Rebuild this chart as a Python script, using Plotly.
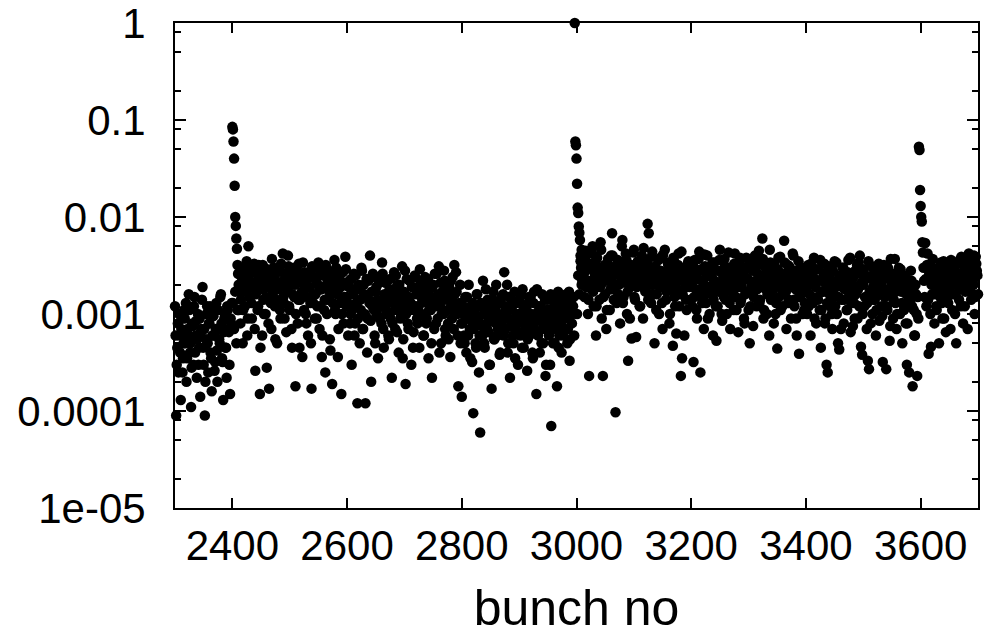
import plotly.graph_objects as go

# --- dados (bunch no -> valor), por trechos ---
# trecho antes do primeiro pico (2300..2398, passo 2)
seg_2300 = [1.2e-3, 9e-5, 4.5e-4, 2.5e-4, 6e-4, 1.3e-4, 9e-4, 3.5e-4, 1.1e-3, 5e-4,
            2e-4, 7e-4, 1.6e-3, 4e-4, 1.1e-4, 8e-4, 3e-4, 1.5e-3, 6e-4, 2.2e-4,
            1e-3, 4.5e-4, 1.4e-4, 7e-4, 1.9e-3, 3e-4, 9e-5, 5.5e-4, 1.2e-3, 2.5e-4,
            8e-4, 4e-4, 1.6e-4, 1.1e-3, 6e-4, 3.2e-4, 1.3e-3, 2e-4, 7e-4, 5e-4,
            1.6e-3, 3.5e-4, 1.3e-4, 9e-4, 4.5e-4, 2.2e-4, 1.1e-3, 6.5e-4, 1.5e-4, 8e-4]
# bunches ímpares (2301..2399)
odd_2301 = [6e-4, 3e-4, 8e-4, 1e-3, 4e-4, 7e-4, 2.5e-4, 5e-4, 9e-4, 1.3e-3,
            3.5e-4, 6e-4, 1.1e-3, 5e-4, 2.8e-4, 7.5e-4, 1.2e-3, 4e-4, 8.5e-4, 5.5e-4,
            3e-4, 9e-4, 6.5e-4, 1.4e-3, 4.5e-4, 7e-4, 2e-4, 1e-3, 5e-4, 8e-4,
            1.2e-3, 3.5e-4, 6e-4, 9.5e-4, 2.6e-4, 7e-4, 4.2e-4, 1.1e-3, 5.5e-4, 1.5e-3,
            8e-4, 3.2e-4, 6.5e-4, 1e-3, 4.5e-4, 1.2e-3, 7e-4, 3e-4, 9e-4, 1.3e-3]
# pico em 2400 (passo 1)
peak_2400 = [8.5e-2, 8e-2, 6e-2, 4e-2, 2.1e-2, 1e-2, 8.1e-3, 6e-3, 4.7e-3, 3.2e-3, 2.6e-3, 1.1e-3]
low_2401 = [1.3e-3, 7e-4, 1.7e-3, 5e-4, 1.1e-3, 2e-3]
# 2412..2598 (passo 2)
seg_2412 = [1.7e-3, 8e-4, 2.4e-3, 5e-4, 3e-3, 1.2e-3, 2.1e-3, 6e-4, 5e-3, 1.5e-3,
            2.8e-3, 9e-4, 2e-3, 3.3e-3, 2.6e-4, 1.8e-3, 1.1e-3, 3.2e-3, 1.5e-4, 2.2e-3,
            6e-4, 1.4e-3, 2.7e-3, 1e-3, 2.8e-4, 1.9e-3, 1.7e-4, 2.5e-3, 7e-4, 1.6e-3,
            3e-3, 1.2e-3, 2.2e-3, 5e-4, 1.8e-3, 2.9e-3, 9e-4, 2e-3, 4.2e-3, 1.3e-3,
            2.4e-3, 6.5e-4, 1.7e-3, 3.1e-3, 1.1e-3, 2e-3, 4.5e-4, 2.6e-3, 1.5e-3, 1.8e-4,
            2.2e-3, 8e-4, 3.3e-3, 1.4e-3, 2.1e-3, 3.6e-4, 1.7e-3, 2.7e-3, 1e-3, 1.9e-3,
            6e-4, 2.4e-3, 1.3e-3, 1.7e-4, 3e-3, 1.6e-3, 9e-4, 2.2e-3, 1.2e-3, 3.4e-3,
            7e-4, 1.8e-3, 3.6e-4, 2.5e-3, 1.1e-3, 2.5e-4, 2e-3, 1.4e-3, 2.8e-3, 5.5e-4,
            1.6e-3, 1.9e-4, 2.3e-3, 3.6e-3, 1e-3, 1.8e-3, 3.6e-4, 2.6e-3, 1.3e-3, 1.5e-4,
            2.1e-3, 8e-4, 1.5e-3, 2.9e-3]
odd_2413 = [2e-3, 1.4e-3, 2.8e-3, 1.1e-3, 2.3e-3, 1.7e-3, 3.5e-3, 9e-4, 2.5e-3, 1.9e-3,
            1.3e-3, 3e-3, 2.1e-3, 7e-4, 1.6e-3, 2.6e-3, 1.2e-3, 2.2e-3, 4.5e-4, 1.8e-3,
            3.2e-3, 1e-3, 2.4e-3, 1.5e-3, 2.9e-3, 8e-4, 2e-3, 1.3e-3, 3.7e-3, 1.7e-3,
            2.3e-3, 5.5e-4, 1.4e-3, 2.7e-3, 1.9e-3, 1.1e-3, 3.3e-3, 2.1e-3, 1.5e-3, 9e-4,
            2.6e-3, 1.8e-3, 4e-3, 1.2e-3, 2.2e-3, 7e-4, 1.6e-3, 3e-3, 2e-3, 1e-3,
            2.8e-3, 1.4e-3, 4.5e-4, 2.3e-3, 1.7e-3, 3.4e-3, 1.1e-3, 2.1e-3, 8e-4, 1.5e-3,
            2.7e-3, 1.9e-3, 5e-4, 3.1e-3, 1.3e-3, 2.4e-3, 1.6e-3, 9e-4, 2e-3, 2.9e-3,
            1.2e-3, 1.8e-3, 6e-4, 2.5e-3, 1.4e-3, 3.2e-3, 1e-3, 2.2e-3, 1.7e-3, 4.2e-4,
            2.6e-3, 1.3e-3, 2e-3, 1.1e-3, 3e-3, 1.6e-3, 7e-4, 2.3e-3, 1.9e-3, 1e-3,
            2.7e-3, 1.5e-3, 3.9e-3, 1.2e-3]
# 2600..2798 (passo 2)
seg_2600 = [1.5e-3, 6e-4, 2.2e-3, 1e-3, 3e-4, 1.8e-3, 2.6e-3, 8e-4, 1.3e-3, 1.2e-4,
            2e-3, 5e-4, 1.1e-3, 2.8e-3, 7e-4, 1.6e-3, 1.2e-4, 2.3e-3, 9e-4, 1.4e-3,
            4e-3, 2e-4, 1.2e-3, 2.4e-3, 6e-4, 1.7e-3, 1e-3, 3.5e-4, 2.1e-3, 1.3e-3,
            8e-4, 2.6e-3, 4.5e-4, 1.5e-3, 1.1e-3, 2.2e-3, 6e-4, 1.8e-3, 9e-4, 2.2e-4,
            1.4e-3, 2.7e-3, 7e-4, 1.2e-3, 2e-3, 4e-4, 1.6e-3, 1e-3, 3.1e-3, 5.5e-4,
            1.3e-3, 1.9e-4, 2.3e-3, 8e-4, 1.5e-3, 1.1e-3, 3e-4, 1.9e-3, 6.5e-4, 2.5e-3,
            1.2e-3, 9e-4, 1.7e-3, 4.5e-4, 2.1e-3, 1e-3, 1.4e-3, 6e-4, 2.4e-3, 8e-4,
            1.3e-3, 3.5e-4, 1.8e-3, 1.1e-3, 2.2e-4, 2e-3, 7e-4, 1.5e-3, 2.6e-3, 9e-4,
            3.1e-3, 1.2e-3, 5e-4, 1.7e-3, 1e-3, 2.2e-3, 6e-4, 1.4e-3, 8e-4, 1.9e-3,
            3.6e-4, 1.2e-3, 2.4e-3, 7e-4, 1.6e-3, 2.7e-3, 1e-3, 1.8e-4, 1.3e-3, 5e-4]
odd_2601 = [1.3e-3, 1.9e-3, 8e-4, 2.3e-3, 1.1e-3, 1.6e-3, 6e-4, 2.5e-3, 1.2e-3, 9e-4,
            1.8e-3, 1.4e-3, 3e-3, 7e-4, 2e-3, 1e-3, 1.5e-3, 4e-4, 2.2e-3, 1.3e-3,
            8.5e-4, 1.7e-3, 2.6e-3, 1.1e-3, 5e-4, 1.9e-3, 1.4e-3, 2.4e-3, 9e-4, 1.2e-3,
            3.4e-3, 7e-4, 1.6e-3, 2.1e-3, 1e-3, 1.3e-3, 5.5e-4, 2.3e-3, 1.5e-3, 8e-4,
            1.8e-3, 1.1e-3, 2.5e-3, 6.5e-4, 1.4e-3, 2e-3, 9e-4, 1.2e-3, 3.5e-4, 1.7e-3,
            2.8e-3, 1e-3, 1.5e-3, 7e-4, 2.2e-3, 1.3e-3, 1.9e-3, 4.5e-4, 1.1e-3, 2.4e-3,
            1.6e-3, 8e-4, 1.2e-3, 2.9e-3, 1e-3, 1.4e-3, 6e-4, 2e-3, 1.7e-3, 9e-4,
            2.3e-3, 1.1e-3, 1.5e-3, 5e-4, 1.9e-3, 1.3e-3, 2.6e-3, 8e-4, 1.2e-3, 1.6e-3,
            4e-4, 2.1e-3, 1e-3, 1.4e-3, 2.8e-3, 7e-4, 1.8e-3, 1.1e-3, 5.5e-4, 1.5e-3,
            2.2e-3, 9e-4, 1.3e-3, 3.2e-3, 1e-3, 1.7e-3, 6e-4, 1.2e-3, 2e-3, 8e-4]
# 2800..2996 (passo 2)
seg_2800 = [1.4e-4, 1e-3, 6e-4, 1.5e-3, 4e-4, 9e-4, 2e-3, 7e-4, 1.2e-3, 3.2e-4,
            9.5e-5, 1.1e-3, 5e-4, 1.6e-3, 8e-4, 2.5e-4, 6e-5, 1.3e-3, 6e-4, 1e-3,
            4.5e-4, 1.8e-3, 7e-4, 1.2e-3, 3e-4, 9e-4, 1.7e-4, 1.4e-3, 5.5e-4, 1.1e-3,
            2e-3, 6e-4, 8e-4, 3.8e-4, 1.3e-3, 9e-4, 1.6e-3, 2.7e-3, 7e-4, 1.1e-3,
            4e-4, 1.5e-3, 2.2e-4, 8.5e-4, 1.2e-3, 5e-4, 1.7e-3, 7e-4, 1e-3, 3e-4,
            1.4e-3, 6e-4, 9e-4, 1.8e-3, 4.5e-4, 1.1e-3, 7.5e-4, 2.6e-4, 1.3e-3, 6e-4,
            1.5e-3, 8e-4, 3.5e-4, 1.7e-3, 1e-3, 1.5e-4, 6.5e-4, 1.2e-3, 4e-4, 9e-4,
            1.6e-3, 5e-4, 7e-4, 2.3e-4, 1.1e-3, 1.4e-3, 6e-4, 3e-4, 7e-5, 1e-3,
            1.5e-3, 5e-4, 8e-4, 1.8e-4, 1.7e-3, 6e-4, 1.1e-3, 4e-4, 9e-4, 1.3e-3,
            7e-4, 1.6e-3, 5e-4, 1e-3, 3.3e-4, 1.4e-3, 8e-4, 1.2e-3, 6e-4]
odd_2801 = [8e-4, 1.2e-3, 5e-4, 9.5e-4, 1.5e-3, 6e-4, 1.1e-3, 3.5e-4, 8.5e-4, 1.3e-3,
            7e-4, 1e-3, 4.5e-4, 1.6e-3, 9e-4, 6e-4, 1.2e-3, 7.5e-4, 2.2e-3, 5e-4,
            1e-3, 8e-4, 1.4e-3, 6.5e-4, 3e-4, 1.1e-3, 9e-4, 1.7e-3, 5.5e-4, 8e-4,
            1.3e-3, 7e-4, 1e-3, 4e-4, 1.5e-3, 8.5e-4, 6e-4, 1.2e-3, 9.5e-4, 2e-3,
            5e-4, 1.1e-3, 7.5e-4, 1.4e-3, 6e-4, 9e-4, 3.5e-4, 1.3e-3, 8e-4, 1e-3,
            6.5e-4, 1.6e-3, 4.5e-4, 1.2e-3, 9e-4, 7e-4, 1.1e-3, 5.5e-4, 1.5e-3, 8e-4,
            1e-3, 4e-4, 1.3e-3, 7e-4, 9.5e-4, 1.8e-3, 6e-4, 8.5e-4, 1.2e-3, 5e-4,
            1e-3, 7.5e-4, 1.4e-3, 3e-4, 9e-4, 1.1e-3, 6.5e-4, 1.6e-3, 8e-4, 5e-4,
            1.2e-3, 9e-4, 7e-4, 1.3e-3, 4.5e-4, 1e-3, 8e-4, 1.5e-3, 6e-4, 1.1e-3,
            9e-4, 1.4e-3, 7e-4, 1.7e-3, 5.5e-4, 1.2e-3, 1e-3, 1.5e-3]
# pico em 3000 (passo 1)
peak_3000 = [1.0, 6e-2, 5.5e-2, 4e-2, 2.2e-2, 1.25e-2, 1.1e-2, 8e-3, 6.9e-3, 5.8e-3,
             4e-3, 3e-3, 4.6e-3, 2.2e-3]
low_3001 = [1e-3, 2.5e-3, 1.6e-3, 3.5e-3, 2e-3]
# 3012..3198 (passo 2)
seg_3012 = [3.5e-3, 1.5e-3, 4.5e-3, 2.2e-3, 1e-3, 2.3e-4, 3e-3, 1.8e-3, 5e-3, 1.2e-3,
            2.6e-3, 6e-4, 3.8e-3, 2e-3, 1.4e-3, 5.5e-3, 9e-4, 2.3e-4, 2.8e-3, 1.6e-3,
            7e-4, 3.3e-3, 2.2e-3, 1.1e-3, 4e-3, 6.8e-3, 1.8e-3, 2.6e-3, 9.7e-5, 1.3e-3,
            3.6e-3, 2e-3, 8e-4, 2.9e-3, 5.8e-3, 1.5e-3, 2.4e-3, 4.2e-3, 1e-3, 3.3e-4,
            3.1e-3, 1.9e-3, 5.6e-4, 2.7e-3, 4.6e-3, 1.4e-3, 5.8e-4, 3.4e-3, 2.1e-3, 1.2e-3,
            2.8e-3, 4e-3, 9e-4, 2.3e-3, 1.7e-3, 3.6e-3, 8.5e-3, 6.8e-3, 2.5e-3, 1.3e-3,
            4.4e-3, 2e-3, 5e-4, 3e-3, 1.6e-3, 2.4e-3, 1e-3, 3.8e-3, 1.9e-3, 7e-4,
            2.7e-3, 4.6e-3, 1.4e-3, 2.2e-3, 3.2e-3, 8e-4, 1.8e-3, 2.6e-3, 4.7e-4, 3.5e-3,
            1.2e-3, 6.3e-4, 2.3e-3, 4.2e-3, 1.6e-3, 2.3e-4, 3.5e-4, 2.9e-3, 6e-4, 1.9e-3,
            1.1e-3, 3.3e-3, 2.1e-3, 1.4e-3]
odd_3013 = [2.6e-3, 3.8e-3, 1.9e-3, 2.9e-3, 1.4e-3, 3.3e-3, 2.2e-3, 4.2e-3, 1.7e-3, 2.7e-3,
            3.5e-3, 1.2e-3, 2.4e-3, 3e-3, 1.9e-3, 4.6e-3, 2.1e-3, 1.5e-3, 3.2e-3, 2.5e-3,
            1.1e-3, 3.7e-3, 2.8e-3, 1.8e-3, 2.3e-3, 4e-3, 1.4e-3, 3.1e-3, 2e-3, 2.7e-3,
            1.6e-3, 3.4e-3, 2.4e-3, 5e-3, 1.3e-3, 2.9e-3, 2.1e-3, 3.6e-3, 1.7e-3, 2.6e-3,
            9e-4, 3.2e-3, 2.2e-3, 4.3e-3, 1.5e-3, 2.8e-3, 1.9e-3, 3.5e-3, 2.4e-3, 1.2e-3,
            3e-3, 2.6e-3, 4.8e-3, 1.8e-3, 2.2e-3, 3.3e-3, 1.4e-3, 2.7e-3, 2e-3, 3.9e-3,
            1.6e-3, 2.5e-3, 3.1e-3, 1.1e-3, 2.3e-3, 3.6e-3, 1.9e-3, 2.8e-3, 1.3e-3, 4.1e-3,
            2.1e-3, 2.6e-3, 1.7e-3, 3.4e-3, 2.4e-3, 1e-3, 2.9e-3, 2e-3, 3.8e-3, 1.5e-3,
            2.7e-3, 1.8e-3, 3.2e-3, 1.2e-3, 2.2e-3, 4.4e-3, 1.6e-3, 2.5e-3, 3e-3, 1.4e-3,
            2.3e-3, 3.5e-3, 1.9e-3, 2.8e-3]
# 3200..3398 (passo 2)
seg_3200 = [2.5e-3, 1.2e-3, 3.2e-4, 3.6e-3, 1.8e-3, 9e-4, 2.7e-3, 4.4e-3, 2.5e-4, 1.5e-3,
            2.2e-3, 7e-4, 3.1e-3, 1.3e-3, 4e-3, 1.9e-3, 1e-3, 2.6e-3, 1.6e-3, 6e-4,
            3.4e-3, 2.1e-3, 5.3e-4, 1.2e-3, 2.8e-3, 4.6e-3, 1.7e-3, 8.5e-4, 2.4e-3, 3.7e-3,
            1.4e-3, 1e-3, 2e-3, 3e-3, 7e-4, 1.8e-3, 2.5e-3, 1.1e-3, 4.2e-3, 1.5e-3,
            2.2e-3, 6.5e-4, 3.3e-3, 1.3e-3, 1.9e-3, 2.7e-3, 9e-4, 1.6e-3, 3.8e-3, 2.3e-3,
            1.1e-3, 5e-4, 2.9e-3, 1.7e-3, 7.5e-4, 3.5e-3, 2.1e-3, 1.2e-3, 2.6e-3, 4.5e-3,
            1.4e-3, 2e-3, 6e-3, 9e-4, 3.1e-3, 1.8e-3, 1e-3, 2.4e-3, 6e-4, 3.4e-3,
            1.5e-3, 2.2e-3, 8e-4, 2.9e-3, 1.3e-3, 4.4e-4, 3.8e-3, 1.9e-3, 1.1e-3, 2.6e-3,
            1.6e-3, 5.7e-3, 2.2e-3, 7e-4, 3.2e-3, 1.4e-3, 2e-3, 9e-4, 2.7e-3, 4e-3,
            1.2e-3, 1.8e-3, 6e-4, 2.4e-3, 3.9e-4, 1.5e-3, 3e-3, 1e-3, 2.1e-3, 1.3e-3]
odd_3201 = [2e-3, 3.2e-3, 1.5e-3, 2.6e-3, 1.1e-3, 2.3e-3, 3.7e-3, 1.8e-3, 2.9e-3, 1.3e-3,
            2.1e-3, 4.1e-3, 1.6e-3, 2.5e-3, 9e-4, 3e-3, 1.9e-3, 2.4e-3, 3.4e-3, 1.4e-3,
            2.2e-3, 1.2e-3, 2.8e-3, 1.7e-3, 3.6e-3, 2e-3, 1e-3, 2.6e-3, 1.5e-3, 3.1e-3,
            2.3e-3, 1.8e-3, 4.3e-3, 1.3e-3, 2.7e-3, 2.1e-3, 1.6e-3, 3.3e-3, 2.4e-3, 1.1e-3,
            2.9e-3, 1.9e-3, 3.8e-3, 1.4e-3, 2.2e-3, 2.6e-3, 8e-4, 3e-3, 1.7e-3, 2.3e-3,
            3.5e-3, 1.2e-3, 2e-3, 2.8e-3, 1.5e-3, 4e-3, 2.2e-3, 1.8e-3, 3.2e-3, 1.3e-3,
            2.5e-3, 1.9e-3, 3.7e-3, 1.1e-3, 2.4e-3, 3e-3, 1.6e-3, 2.1e-3, 4.6e-3, 1.4e-3,
            2.7e-3, 1.8e-3, 3.3e-3, 1e-3, 2.3e-3, 2.9e-3, 1.5e-3, 3.9e-3, 2e-3, 1.2e-3,
            2.6e-3, 3.4e-3, 1.7e-3, 2.2e-3, 1.3e-3, 3.1e-3, 2.4e-3, 1.9e-3, 4.2e-3, 1.4e-3,
            2.8e-3, 9e-4, 2.1e-3, 3.5e-3, 1.6e-3, 2.5e-3, 1.8e-3, 3e-3, 1.1e-3, 2.3e-3]
# 3400..3596 (passo 2)
seg_3400 = [2.2e-3, 1e-3, 3.2e-3, 1.6e-3, 6e-4, 2.6e-3, 1.3e-3, 3.8e-3, 2e-3, 8e-4,
            1.5e-3, 2.9e-3, 1.1e-3, 4.5e-4, 2.3e-3, 1.7e-3, 3.3e-3, 9e-4, 3e-4, 2.5e-4,
            1.9e-3, 1.2e-3, 2.7e-3, 7e-4, 1.5e-3, 3.5e-3, 2.1e-3, 1e-3, 5e-4, 4.3e-4,
            2.4e-3, 1.4e-3, 3e-3, 8e-4, 1.8e-3, 2.6e-3, 1.1e-3, 3.6e-3, 1.6e-3, 6.5e-4,
            2.2e-3, 7.5e-4, 1.3e-3, 2.8e-3, 1.9e-3, 9e-4, 3.4e-3, 4e-3, 4.6e-4, 3.8e-4,
            2e-3, 1.2e-3, 2.5e-3, 7e-4, 3.3e-4, 2.7e-4, 1.6e-3, 3.1e-3, 1e-3, 2.2e-3,
            1.4e-3, 6e-4, 2.9e-3, 1.7e-3, 8.5e-4, 2.4e-3, 1.2e-3, 3.2e-4, 3.2e-3, 1.8e-3,
            2.7e-4, 1.1e-3, 2.3e-3, 5.3e-4, 3.7e-3, 1.5e-3, 9e-4, 2.6e-3, 1.3e-3, 7e-4,
            2e-3, 3e-3, 1e-3, 1.7e-3, 5e-4, 2.4e-3, 1.2e-3, 8e-4, 3e-4, 1.9e-3,
            2.5e-4, 1.4e-3, 2.2e-3, 1.8e-4, 1.1e-3, 6e-4, 1.6e-3, 2.3e-4, 9e-4]
odd_3401 = [1.8e-3, 2.7e-3, 1.2e-3, 2.1e-3, 3.3e-3, 1.5e-3, 2.4e-3, 9e-4, 1.9e-3, 2.9e-3,
            1.4e-3, 2.2e-3, 3.6e-3, 1.1e-3, 1.7e-3, 2.6e-3, 8e-4, 2e-3, 1.3e-3, 3.1e-3,
            1.6e-3, 2.3e-3, 1e-3, 2.8e-3, 1.8e-3, 1.2e-3, 3.4e-3, 2.1e-3, 1.5e-3, 2.5e-3,
            7e-4, 1.9e-3, 3e-3, 1.4e-3, 2.2e-3, 1.1e-3, 2.7e-3, 1.7e-3, 3.8e-3, 1.3e-3,
            2e-3, 2.4e-3, 9e-4, 1.6e-3, 3.2e-3, 1.8e-3, 1.2e-3, 2.6e-3, 2.1e-3, 1e-3,
            2.9e-3, 1.5e-3, 2.3e-3, 1.3e-3, 3.5e-3, 1.7e-3, 8e-4, 2.5e-3, 1.9e-3, 1.4e-3,
            2.8e-3, 1.1e-3, 2.2e-3, 3.3e-3, 1.6e-3, 2e-3, 9.5e-4, 2.7e-3, 1.5e-3, 2.4e-3,
            1.2e-3, 3e-3, 1.8e-3, 7.5e-4, 2.1e-3, 2.6e-3, 1.4e-3, 3.7e-3, 1.7e-3, 1e-3,
            2.3e-3, 1.9e-3, 2.9e-3, 1.3e-3, 2e-3, 1.1e-3, 2.5e-3, 1.6e-3, 8e-4, 2.2e-3,
            1.4e-3, 2.8e-3, 1.2e-3, 1.8e-3, 6e-4, 2e-3, 1e-3, 1.5e-3]
# pico em 3600 (passo 1)
peak_3600 = [5.3e-2, 4.9e-2, 1.9e-2, 1.3e-2, 1e-2, 9e-3, 5.5e-3, 4.3e-3, 3e-3, 2.2e-3, 1.5e-3]
# 3608..3700 (passo 2)
seg_3608 = [5.4e-3, 1.2e-3, 4.2e-3, 3.9e-4, 2.5e-3, 4.6e-4, 1.6e-3, 3e-3, 8e-4, 2e-3,
            1.1e-3, 2.7e-3, 5e-4, 1.5e-3, 3.3e-3, 9e-4, 3.5e-3, 1.8e-3, 6.5e-4, 2.4e-3,
            1.3e-3, 2.9e-3, 7e-4, 2.1e-3, 1.6e-3, 3.1e-3, 1e-3, 5e-4, 2.6e-3, 1.9e-3,
            3.6e-3, 1.2e-3, 2.3e-3, 8e-4, 3e-3, 1.7e-3, 3.8e-3, 7e-4, 4.2e-3, 2.5e-3,
            1.4e-3, 3.4e-3, 2e-3, 1e-3, 3.9e-3, 2.8e-3, 1.6e-3]
odd_3609 = [2.3e-3, 3.2e-3, 1.4e-3, 2.6e-3, 1e-3, 2e-3, 3.7e-3, 1.6e-3, 2.4e-3, 1.2e-3,
            2.9e-3, 1.8e-3, 2.2e-3, 3.4e-3, 1.3e-3, 2.7e-3, 9e-4, 2e-3, 3e-3, 1.5e-3,
            2.5e-3, 1.9e-3, 3.6e-3, 1.1e-3, 2.3e-3, 2.8e-3, 1.6e-3, 3.3e-3, 2.1e-3, 1.4e-3,
            2.6e-3, 3.9e-3, 1.8e-3, 2.4e-3, 1.2e-3, 3.1e-3, 2e-3, 2.7e-3, 3.5e-3, 1.7e-3,
            2.9e-3, 2.2e-3, 4e-3, 1.5e-3, 3.3e-3, 2.5e-3]

# (primeiro bunch, passo, valores)
segments = [
    (2300, 2, seg_2300), (2301, 2, odd_2301),
    (2400, 1, peak_2400), (2401, 2, low_2401),
    (2412, 2, seg_2412), (2413, 2, odd_2413),
    (2600, 2, seg_2600), (2601, 2, odd_2601),
    (2800, 2, seg_2800), (2801, 2, odd_2801),
    (2997, 1, peak_3000), (3001, 2, low_3001),
    (3012, 2, seg_3012), (3013, 2, odd_3013),
    (3200, 2, seg_3200), (3201, 2, odd_3201),
    (3400, 2, seg_3400), (3401, 2, odd_3401),
    (3597, 1, peak_3600),
    (3608, 2, seg_3608), (3609, 2, odd_3609),
]

x_ticks = [2400, 2600, 2800, 3000, 3200, 3400, 3600]
y_ticks = [1e-5, 1e-4, 1e-3, 1e-2, 1e-1, 1]
y_ticktext = ['1e-05', '0.0001', '0.001', '0.01', '0.1', '1']
y_minor = [m * 10.0 ** e for e in range(-5, 0) for m in (2, 5, 8)]

bunch = []
value = []
for start, step, vals in segments:
    for i, v in enumerate(vals):
        bunch.append(start + step * i)
        value.append(v)

fig = go.Figure()
fig.add_trace(go.Scatter(
    x=bunch,
    y=value,
    mode='markers',
    marker=dict(color='black', size=10.5, line=dict(width=0)),
    cliponaxis=False,
    showlegend=False
))

font = dict(family='Liberation Sans, Arial, sans-serif', size=42, color='black')

fig.update_layout(
    width=985, height=638,
    margin=dict(l=175, r=7, t=23, b=130),
    paper_bgcolor='white',
    plot_bgcolor='white',
    font=font,
    xaxis=dict(
        range=[2300, 3700],
        tickvals=x_ticks,
        ticks='inside', ticklen=10, tickwidth=1.5, tickcolor='black',
        showline=True, linewidth=2, linecolor='black', mirror='allticks',
        showgrid=False, zeroline=False, automargin=False,
        ticklabelstandoff=0,
        title=dict(text='bunch no', standoff=22),
    ),
    yaxis=dict(
        type='log',
        range=[-5, 0],
        tickvals=y_ticks,
        ticktext=y_ticktext,
        ticks='inside', ticklen=11, tickwidth=1.5, tickcolor='black',
        showline=True, linewidth=2, linecolor='black', mirror='allticks',
        showgrid=False, zeroline=False, automargin=False,
        ticklabelstandoff=19,
        ticklabeloverflow='allow',
        minor=dict(tickvals=y_minor, ticks='inside', ticklen=6, tickwidth=1.5,
                   tickcolor='black', showgrid=False),
    ),
)

fig.write_html("out.html", config={'displayModeBar': False})

# tira a margem padrão do body para a figura ficar no canto da página
with open("out.html", encoding="utf-8") as f:
    html = f.read()
html = html.replace("<body>", '<body style="margin:0">', 1)
with open("out.html", "w", encoding="utf-8") as f:
    f.write(html)
